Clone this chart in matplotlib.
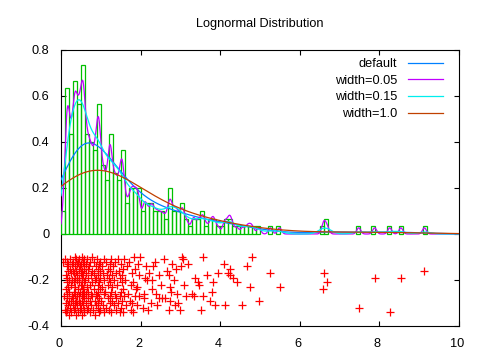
import numpy as np
import matplotlib
matplotlib.use("Agg")
import matplotlib.pyplot as plt
import matplotlib.transforms as mtransforms

plt.rcParams['font.family'] = ['Liberation Sans', 'DejaVu Sans']

# ---------------- data ----------------
title = "Lognormal Distribution"

# samples with x < 2 (dense part), x and the random vertical jitter of the red points
x_dense = [0.04, 0.07, 0.09,
           0.11, 0.12, 0.12, 0.13, 0.13, 0.14, 0.14, 0.15, 0.15, 0.15, 0.16, 0.16, 0.17, 0.17, 0.18, 0.18, 0.19, 0.19, 0.19,
           0.21, 0.22, 0.22, 0.23, 0.24, 0.24, 0.25, 0.26, 0.27, 0.27, 0.28, 0.29, 0.29,
           0.31, 0.31, 0.32, 0.32, 0.33, 0.33, 0.34, 0.34, 0.34, 0.35, 0.35, 0.36, 0.36, 0.37, 0.37, 0.38, 0.38, 0.39, 0.39, 0.39,
           0.41, 0.41, 0.42, 0.43, 0.43, 0.44, 0.44, 0.45, 0.45, 0.46, 0.46, 0.47, 0.47, 0.48, 0.48, 0.49, 0.49,
           0.51, 0.51, 0.52, 0.52, 0.53, 0.53, 0.53, 0.54, 0.54, 0.55, 0.55, 0.55, 0.56, 0.56, 0.57, 0.57, 0.57, 0.58, 0.58, 0.59, 0.59, 0.59,
           0.61, 0.62, 0.62, 0.63, 0.64, 0.65, 0.65, 0.66, 0.67, 0.68, 0.68, 0.69, 0.69,
           0.71, 0.72, 0.72, 0.73, 0.74, 0.75, 0.76, 0.76, 0.77, 0.78, 0.79, 0.79,
           0.81, 0.82, 0.83, 0.84, 0.85, 0.85, 0.86, 0.87, 0.88, 0.89, 0.89,
           0.91, 0.91, 0.92, 0.92, 0.93, 0.93, 0.94, 0.94, 0.95, 0.95, 0.96, 0.96, 0.97, 0.97, 0.98, 0.98, 0.99,
           1.01, 1.02, 1.04, 1.05, 1.05, 1.07, 1.08, 1.08, 1.09,
           1.11, 1.13, 1.14, 1.16, 1.17, 1.18, 1.19,
           1.21, 1.21, 1.22, 1.22, 1.23, 1.23, 1.24, 1.25, 1.25, 1.26, 1.27, 1.28, 1.29,
           1.31, 1.32, 1.34, 1.35, 1.36, 1.37, 1.38, 1.39,
           1.41, 1.43, 1.44, 1.45, 1.47, 1.48, 1.49,
           1.51, 1.51, 1.52, 1.53, 1.53, 1.54, 1.55, 1.56, 1.57, 1.58, 1.59,
           1.62, 1.64, 1.67, 1.69,
           1.71, 1.73, 1.75, 1.76, 1.78, 1.79,
           1.81, 1.82, 1.84, 1.86, 1.87, 1.89,
           1.91, 1.92, 1.94, 1.95, 1.97, 1.99]
y_dense = [-0.12, -0.27, -0.33,
           -0.11, -0.30, -0.18, -0.24, -0.34, -0.14, -0.21, -0.28, -0.12, -0.33, -0.19, -0.26, -0.16, -0.31, -0.23, -0.13, -0.29, -0.20, -0.35,
           -0.25, -0.15, -0.32, -0.11, -0.22, -0.29, -0.17, -0.34, -0.13, -0.27, -0.20, -0.31, -0.16,
           -0.28, -0.12, -0.21, -0.33, -0.17, -0.25, -0.10, -0.30, -0.19, -0.14, -0.26, -0.32, -0.23, -0.11, -0.29, -0.16, -0.35, -0.20, -0.27, -0.13,
           -0.18, -0.31, -0.24, -0.12, -0.34, -0.15, -0.27, -0.21, -0.11, -0.29, -0.19, -0.33, -0.14, -0.25, -0.30, -0.17, -0.22,
           -0.32, -0.13, -0.26, -0.19, -0.10, -0.29, -0.22, -0.35, -0.16, -0.24, -0.12, -0.31, -0.18, -0.27, -0.14, -0.33, -0.21, -0.11, -0.28, -0.15, -0.25, -0.34,
           -0.20, -0.30, -0.13, -0.26, -0.17, -0.33, -0.11, -0.23, -0.28, -0.15, -0.32, -0.19, -0.25,
           -0.14, -0.29, -0.22, -0.12, -0.34, -0.18, -0.26, -0.31, -0.16, -0.21, -0.10, -0.27,
           -0.33, -0.17, -0.24, -0.12, -0.29, -0.20, -0.35, -0.14, -0.26, -0.31, -0.19,
           -0.11, -0.27, -0.22, -0.32, -0.15, -0.25, -0.18, -0.30, -0.13, -0.34, -0.21, -0.28, -0.16, -0.24, -0.12, -0.33, -0.19,
           -0.29, -0.14, -0.23, -0.31, -0.17, -0.26, -0.11, -0.34, -0.20,
           -0.25, -0.12, -0.32, -0.18, -0.28, -0.15, -0.22,
           -0.33, -0.19, -0.13, -0.27, -0.21, -0.30, -0.16, -0.11, -0.25, -0.34, -0.18, -0.29, -0.23,
           -0.14, -0.31, -0.20, -0.26, -0.12, -0.33, -0.17, -0.28,
           -0.22, -0.11, -0.30, -0.16, -0.27, -0.34, -0.19,
           -0.13, -0.25, -0.32, -0.18, -0.29, -0.21, -0.15, -0.34, -0.24, -0.11, -0.27,
           -0.20, -0.31, -0.14, -0.26,
           -0.12, -0.29, -0.22, -0.33, -0.30, -0.17,
           -0.34, -0.21, -0.10, -0.27, -0.15, -0.24,
           -0.23, -0.31, -0.13, -0.27, -0.18, -0.10]

# samples with x >= 2 (tail)
x_tail = [2.06, 2.08, 2.09, 2.11, 2.14, 2.16, 2.19, 2.22, 2.26, 2.28, 2.29,
          2.31, 2.36, 2.38, 2.41, 2.45, 2.47, 2.52, 2.54, 2.58, 2.62, 2.66,
          2.71, 2.71, 2.73, 2.75, 2.77, 2.79, 2.83, 2.86, 2.88, 2.91, 2.94, 2.98,
          3.02, 3.04, 3.07, 3.08, 3.14, 3.19, 3.29, 3.33, 3.36, 3.44, 3.47,
          3.53, 3.57, 3.58, 3.66, 3.74, 3.79, 3.83, 3.86, 3.95,
          4.09, 4.13, 4.19, 4.24, 4.25, 4.31, 4.42, 4.56, 4.67, 4.74, 4.81, 4.97,
          5.26, 5.49, 6.59, 6.62, 6.69, 7.48, 7.88, 8.26, 8.54, 9.13]
y_tail = [-0.32, -0.26, -0.28, -0.19, -0.14, -0.20, -0.33, -0.17, -0.30, -0.24, -0.20,
          -0.14, -0.12, -0.26, -0.31, -0.28, -0.18, -0.22, -0.28, -0.11, -0.28, -0.16,
          -0.33, -0.18, -0.23, -0.29, -0.25, -0.13, -0.20, -0.31, -0.15, -0.26, -0.30, -0.33,
          -0.14, -0.10, -0.11, -0.22, -0.27, -0.13, -0.26, -0.27, -0.19, -0.21, -0.22,
          -0.33, -0.10, -0.27, -0.18, -0.29, -0.25, -0.21, -0.31, -0.17,
          -0.13, -0.31, -0.17, -0.15, -0.18, -0.19, -0.21, -0.31, -0.14, -0.23, -0.10, -0.29,
          -0.17, -0.23, -0.24, -0.17, -0.21, -0.32, -0.19, -0.34, -0.19, -0.16]

bin_width = 0.1
bandwidths = [None, 0.05, 0.15, 1.0]          # None = gnuplot default bandwidth
curve_labels = ["default", "width=0.05", "width=0.15", "width=1.0"]
curve_colors = ["#0080FF", "#C000FF", "#00EEEE", "#C04000"]

xticks = [0, 2, 4, 6, 8, 10]
xtick_labels = ["0", "2", "4", "6", "8", "10"]
yticks = [-0.4, -0.2, 0.0, 0.2, 0.4, 0.6, 0.8]
ytick_labels = ["-0.4", "-0.2", "0", "0.2", "0.4", "0.6", "0.8"]

# ---------------- figure ----------------
xs = np.array(x_dense + x_tail)
ys = np.array(y_dense + y_tail)
N = len(xs)

fig = plt.figure(figsize=(4.8, 3.6), dpi=100)
ax = fig.add_axes([61 / 480, 34 / 360, 398 / 480, 276 / 360])
FS = 9.2

# red jitter points
ax.plot(xs, ys, linestyle="none", marker="+", markersize=5.2, markeredgewidth=0.9,
        color="#FF0000", zorder=2)

# histogram (normalised)
edges = np.arange(0, 10 + bin_width / 2, bin_width)
counts, _ = np.histogram(xs, bins=edges)
heights = counts / (N * bin_width)
mask = counts > 0
ax.bar(edges[:-1][mask], heights[mask], width=bin_width, align="edge", fill=False,
       edgecolor="#00C000", linewidth=0.9, zorder=3)

# kernel density curves
grid = np.linspace(0, 10, 1500)
sigma = xs.std()
for bw, lab, col in zip(bandwidths, curve_labels, curve_colors):
    h = bw if bw is not None else (4.0 / (3.0 * N)) ** 0.2 * sigma
    dens = np.exp(-0.5 * ((grid[:, None] - xs[None, :]) / h) ** 2).sum(axis=1) / (N * h * np.sqrt(2 * np.pi))
    ax.plot(grid, dens, color=col, linewidth=0.9, label=lab, zorder=4)

ax.set_xlim(0, 10)
ax.set_ylim(-0.4, 0.8)
ax.set_xticks(xticks)
ax.set_xticklabels(xtick_labels)
ax.set_yticks(yticks)
ax.set_yticklabels(ytick_labels)
ax.tick_params(axis="both", direction="in", length=3.5, width=0.8, labelsize=FS,
               top=True, right=True, colors="black")
ax.tick_params(axis="x", pad=8.5)
ax.tick_params(axis="y", pad=8.5)
off = mtransforms.ScaledTranslation(-2 / 100, 0, fig.dpi_scale_trans)
for lbl in ax.get_xticklabels():
    lbl.set_transform(lbl.get_transform() + off)
for sp in ax.spines.values():
    sp.set_linewidth(0.8)

ax.set_title(title, fontsize=FS, pad=16.5)

leg = ax.legend(loc="upper right", bbox_to_anchor=(0.960, 0.971), frameon=False,
                markerfirst=False, fontsize=FS, handlelength=2.73, handletextpad=0.88,
                labelspacing=0.37, borderpad=0, borderaxespad=0)

fig.savefig("out.png", dpi=100)
